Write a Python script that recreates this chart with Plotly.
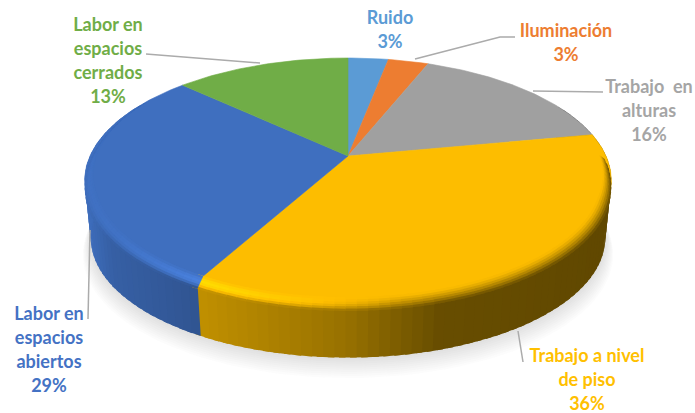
import numpy as np
import plotly.graph_objects as go

# Pie data, clockwise from twelve o'clock
categories = ["Ruido", "Iluminación", "Trabajo en alturas", "Trabajo a nivel de piso",
              "Labor en espacios abiertos", "Labor en espacios cerrados"]
values = [3, 3, 16, 36, 29, 13]
face_colors = ["#5B9BD5", "#ED7D31", "#A0A0A0", "#FDBD00", "#3F6FBF", "#70AD47"]
label_colors = ["#5B9BD5", "#ED7D31", "#A5A5A5", "#FFC000", "#4472C4", "#70AD47"]
label_lines = [["Ruido"], ["Iluminación"], ["Trabajo  en", "alturas"], ["Trabajo a nivel", "de piso"],
               ["Labor en", "espacios", "abiertos"], ["Labor en", "espacios", "cerrados"]]

# Label placement: centre x, y of the first line, in page pixels
label_anchor = [(390, 19.5), (566, 32.5), (649, 88.5), (587, 357.5), (49, 315.5), (108, 26)]
line_pitch = 24
leaders = [
    ([515, 500, 415], [37, 37, 59]),
    ([603, 533], [92, 91]),
    ([523, 518], [362, 331]),
    ([88, 90], [319, 230]),
    ([146, 260], [54, 63]),
]

# Projection of the tilted disc
CX, CY = 348.0, 156.0
RX, RY, PERSP = 258.0, 117.6, 0.2
DEPTH, BOTTOM_SCALE = 58.0, 0.977


def project(theta, scale=1.0, drop=0.0):
    u, v = np.sin(theta), np.cos(theta)
    w = 1 + PERSP * v
    return CX + scale * RX * u / w, CY - scale * RY * v / w + drop


def to_rgb(hex_color):
    return np.array([int(hex_color[i:i + 2], 16) for i in (1, 3, 5)], dtype=float)


def css(rgb):
    r, g, b = np.clip(rgb, 0, 255).round().astype(int)
    return f"rgb({r},{g},{b})"


def wall_shade(x):
    return np.interp(x, [85, 110, 199, 345, 440, 610], [0.98, 0.86, 0.76, 0.60, 0.41, 0.38])


def highlight(x):
    return np.interp(x, [85, 199, 300, 400, 610], [0.1, 0.75, 0.4, 0.0, 0.0])


def polygon(xs, ys, color):
    return go.Scatter(x=xs, y=ys, mode="lines", fill="toself", fillcolor=color,
                      line=dict(width=0), hoverinfo="skip", showlegend=False)


fig = go.Figure()

# Soft drop shadow under the disc
ring = np.linspace(0, 2 * np.pi, 181)
for i in range(10):
    sx, sy = project(ring, BOTTOM_SCALE + 0.003 * (10 - i), DEPTH + 1.6 * (10 - i))
    fig.add_trace(go.Scatter(x=sx, y=sy, mode="lines", fill="toself",
                             fillcolor="rgba(90,90,90,0.02)", line=dict(width=0),
                             hoverinfo="skip", showlegend=False))

edges = np.cumsum([0] + values) / sum(values) * 2 * np.pi
BEVEL_BANDS = 6
STEP = np.radians(2)
OVERLAP = np.radians(1.2)  # each quad runs under the next one, so no seams show

# Outer wall of the disc, one slim quad per angular step
for k, base in enumerate(face_colors):
    start, stop = edges[k], edges[k + 1]
    steps = np.linspace(start, stop, max(2, int((stop - start) / STEP) + 1))
    rgb = to_rgb(base)
    for a, b in zip(steps[:-1], steps[1:]):
        if np.cos((a + b) / 2) > 0.45:
            continue
        x1, y1 = project(a)
        x2, y2 = project(b + OVERLAP)
        x3, y3 = project(b + OVERLAP, BOTTOM_SCALE, DEPTH)
        x4, y4 = project(a, BOTTOM_SCALE, DEPTH)
        shade = wall_shade(project((a + b) / 2)[0])
        fig.add_trace(polygon([x1, x2, x3, x4, x1], [y1, y2, y3, y4, y1], css(rgb * shade)))

# Flat top face: one wedge per value
for k, base in enumerate(face_colors):
    arc = np.linspace(edges[k], edges[k + 1], max(3, values[k] * 4))
    ax, ay = project(arc)
    fig.add_trace(go.Scatter(x=np.r_[CX, ax, CX], y=np.r_[CY, ay, CY], mode="lines", fill="toself",
                             fillcolor=base, line=dict(color=base, width=0.6),
                             hoverinfo="skip", showlegend=False, name=categories[k]))

# Rounded rim between the face and the wall
for k, base in enumerate(face_colors):
    start, stop = edges[k], edges[k + 1]
    steps = np.linspace(start, stop, max(2, int((stop - start) / STEP) + 1))
    rgb = to_rgb(base)
    for a, b in zip(steps[:-1], steps[1:]):
        mid = (a + b) / 2
        size = np.clip((0.55 - np.cos(mid)) / 0.9, 0, 1)
        if size <= 0:
            continue
        xm = project(mid)[0]
        for band in range(BEVEL_BANDS):
            t0, t1 = band / BEVEL_BANDS, (band + 1.3) / BEVEL_BANDS
            s0, s1 = 1 - 0.04 * size * (1 - t0), 1 - 0.04 * size * (1 - min(t1, 1))
            d0, d1 = 8 * size * t0, 8 * size * min(t1, 1)
            xa, ya = project(a, s0, d0)
            xb, yb = project(b + OVERLAP, s0, d0)
            xc, yc = project(b + OVERLAP, s1, d1)
            xd, yd = project(a, s1, d1)
            t = (band + 0.5) / BEVEL_BANDS
            mix = rgb + (rgb * wall_shade(xm) - rgb) * t ** 1.4
            glow = highlight(xm) * np.sin(np.pi * min(t * 1.1, 1)) * min(size * 1.5, 1)
            color = mix + (rgb * 1.25 - mix) * glow
            fig.add_trace(polygon([xa, xb, xc, xd, xa], [ya, yb, yc, yd, ya], css(color)))

# Leader lines from the labels to the slices
for lx, ly in leaders:
    fig.add_trace(go.Scatter(x=lx, y=ly, mode="lines", line=dict(color="#ABABAB", width=1.5),
                             hoverinfo="skip", showlegend=False))

# Data labels, laid out line by line with the percentage last
for lines, value, color, (ax_, ay_) in zip(label_lines, values, label_colors, label_anchor):
    rows = lines + [f"{value}%"]
    fig.add_trace(go.Scatter(
        x=[ax_] * len(rows), y=[ay_ + n * line_pitch for n in range(len(rows))],
        mode="text", text=rows, textposition="middle center", cliponaxis=False,
        textfont=dict(family="Lato", size=18, color=color, weight="bold"),
        hoverinfo="skip", showlegend=False))

fig.update_layout(
    width=695, height=413, margin=dict(l=0, r=0, t=0, b=0),
    paper_bgcolor="white", plot_bgcolor="white", showlegend=False,
    xaxis=dict(range=[0, 695], visible=False, fixedrange=True),
    yaxis=dict(range=[413, 0], visible=False, fixedrange=True),
)

fig.write_html("out.html")
